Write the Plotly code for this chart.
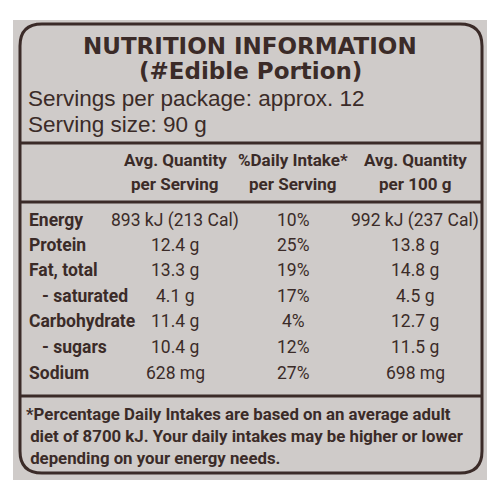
import plotly.graph_objects as go

title = "NUTRITION INFORMATION"
subtitle = "(#Edible Portion)"
servings = "Servings per package: approx. 12"
size = "Serving size: 90 g"
headers = [["Avg. Quantity", "per Serving"], ["%Daily Intake*", "per Serving"], ["Avg. Quantity", "per 100 g"]]
nutrients = ["Energy", "Protein", "Fat, total", "   - saturated", "Carbohydrate", "   - sugars", "Sodium"]
per_serving = ["893 kJ (213 Cal)", "12.4 g", "13.3 g", "4.1 g", "11.4 g", "10.4 g", "628 mg"]
daily_intake = ["10%", "25%", "19%", "17%", "4%", "12%", "27%"]
per_100g = ["992 kJ (237 Cal)", "13.8 g", "14.8 g", "4.5 g", "12.7 g", "11.5 g", "698 mg"]
footnote = ["*Percentage Daily Intakes are based on an average adult",
            " diet of 8700 kJ. Your daily intakes may be higher or lower",
            " depending on your energy needs."]

INK = "#3b2b28"
BG = "#cfcbc9"
COND = "Roboto, sans-serif"

fig = go.Figure()
ann = []
def t(x, y, s, size, font=COND, xa="center", bold=True):
    ann.append(dict(x=x, y=y, xref="x", yref="y", text=(f"<b>{s}</b>" if bold else s),
                    showarrow=False, xanchor=xa, yanchor="middle",
                    font=dict(family=font, size=size, color=INK)))

t(250, 46, title, 23, font="DejaVu Sans")
t(250, 71, subtitle, 23, font="DejaVu Sans")
t(26, 98, servings, 22.5, font="Liberation Sans", xa="left", bold=False)
t(26, 124, size, 22.5, font="Liberation Sans", xa="left", bold=False)
cx = [175, 293, 415]
for i, h in enumerate(headers):
    t(cx[i], 160, h[0], 17)
    t(cx[i], 184, h[1], 17)
ys = [220, 245, 270, 296, 321, 347, 373]
for i, n in enumerate(nutrients):
    t(27, ys[i], n.replace(" ", "&nbsp;"), 17.5, xa="left")
    t(cx[0], ys[i], per_serving[i], 17.5, bold=False)
    t(cx[1], ys[i], daily_intake[i], 17.5, bold=False)
    t(cx[2], ys[i], per_100g[i], 17.5, bold=False)
for i, f in enumerate(footnote):
    t(24, 414 + i * 22, f.replace(" ", "&nbsp;", 1) if f.startswith(" ") else f, 16.8, xa="left")

L, T, R, B, r = 20, 24, 482, 473, 22
path = (f"M {L+r},{T} L {R-r},{T} Q {R},{T} {R},{T+r} L {R},{B-r} Q {R},{B} {R-r},{B} "
        f"L {L+r},{B} Q {L},{B} {L},{B-r} L {L},{T+r} Q {L},{T} {L+r},{T} Z")
shapes = [
    dict(type="rect", x0=13, x1=487, y0=20, y1=480, fillcolor=BG, line=dict(width=0), layer="below"),
    dict(type="path", path=path, line=dict(color=INK, width=3)),
    dict(type="line", x0=L, x1=R, y0=143, y1=143, line=dict(color=INK, width=3)),
    dict(type="line", x0=L, x1=R, y0=202, y1=202, line=dict(color=INK, width=3)),
    dict(type="line", x0=L, x1=R, y0=396, y1=396, line=dict(color=INK, width=3)),
]
fig.update_layout(width=500, height=500, margin=dict(l=0, r=0, t=0, b=0),
                  paper_bgcolor="white", plot_bgcolor="white",
                  xaxis=dict(range=[0, 500], visible=False, fixedrange=True),
                  yaxis=dict(range=[500, 0], visible=False, fixedrange=True),
                  annotations=ann, shapes=shapes, showlegend=False)
fig.write_html("out.html", config={"displayModeBar": False},
               post_script="document.body.style.margin='0';document.body.style.overflow='hidden';")
